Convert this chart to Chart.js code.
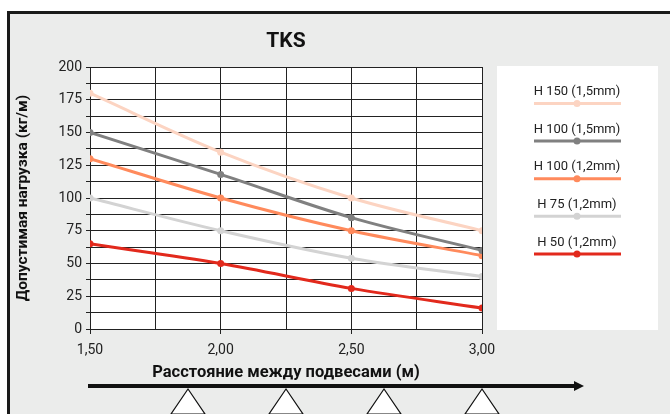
<!DOCTYPE html>
<html>
<head>
<meta charset="utf-8">
<script src="https://cdn.jsdelivr.net/npm/chart.js@4.4.1/dist/chart.umd.min.js"></script>
<style>
  html, body { margin: 0; padding: 0; background: #fff; }
  #wrap { position: relative; width: 670px; height: 414px; }
</style>
</head>
<body>
<div id="wrap"><canvas id="myChart" width="670" height="414"></canvas></div>
<script>
// distance between hangers (m)
var xValues = [1.5, 2.0, 2.5, 3.0];
var xTickLabels = ["1,50", "2,00", "2,50", "3,00"];
var yTickLabels = [0, 25, 50, 75, 100, 125, 150, 175, 200];

var seriesNames = ["H 150 (1,5mm)", "H 100 (1,5mm)", "H 100 (1,2mm)", "H 75 (1,2mm)", "H 50 (1,2mm)"];
var h150_15 = [180, 135, 100, 75];
var h100_15 = [150, 118, 85, 60];
var h100_12 = [130, 100, 75, 56];
var h75_12 = [100, 75, 54, 40];
var h50_12 = [65, 50, 31, 16];

// positions of the hangers under the arrow
var hangers = [1.875, 2.25, 2.625, 3.0];

var lineColors = ["#fcd4c2", "#808080", "#ff8a5c", "#d3d3d3", "#e2291c"];
var FONT = "Roboto";

function toPoints(vals) {
    return vals.map(function (v, i) { return { x: xValues[i], y: v }; });
}

var allSeries = [h150_15, h100_15, h100_12, h75_12, h50_12];
var datasets = allSeries.map(function (vals, i) {
    return {
        label: seriesNames[i],
        data: toPoints(vals),
        borderColor: lineColors[i],
        backgroundColor: lineColors[i],
        borderWidth: 3,
        pointRadius: 3.5,
        pointHoverRadius: 3.5,
        pointBorderWidth: 0,
        cubicInterpolationMode: 'monotone',
        fill: false
    };
});

var decor = {
    id: 'decor',
    beforeDraw: function (chart) {
        var ctx = chart.ctx;
        ctx.save();
        ctx.fillStyle = "#ffffff";
        ctx.fillRect(0, 0, chart.width, chart.height);
        // outer frame
        ctx.fillStyle = "#ebeceb";
        ctx.fillRect(8.5, 12.5, chart.width, chart.height);
        ctx.strokeStyle = "#1a1a1a";
        ctx.lineWidth = 3;
        ctx.strokeRect(8.5, 12.5, chart.width + 20, chart.height + 20);
        // plot background
        var a = chart.chartArea;
        ctx.fillStyle = "#ffffff";
        ctx.fillRect(a.left, a.top, a.right - a.left, a.bottom - a.top);
        // legend panel
        ctx.fillRect(497, 66, 161, 264);
        ctx.restore();
    },
    afterDraw: function (chart) {
        var ctx = chart.ctx;
        var a = chart.chartArea;
        var xs = chart.scales.x;
        ctx.save();
        // title
        ctx.fillStyle = "#111";
        ctx.font = "bold 21px " + FONT;
        ctx.textAlign = "center";
        ctx.textBaseline = "middle";
        ctx.fillText("TKS", (a.left + a.right) / 2, 42);

        // legend, text above line sample
        ctx.font = "13px " + FONT;
        chart.data.datasets.forEach(function (ds, i) {
            var ty = 92 + i * 37.6;
            var cx = 577;
            ctx.fillStyle = "#222";
            ctx.fillText(ds.label, cx, ty);
            ctx.strokeStyle = ds.borderColor;
            ctx.lineWidth = 3;
            ctx.beginPath();
            ctx.moveTo(534, ty + 11.5);
            ctx.lineTo(621, ty + 11.5);
            ctx.stroke();
            ctx.fillStyle = ds.borderColor;
            ctx.beginPath();
            ctx.arc(cx, ty + 11.5, 3.5, 0, Math.PI * 2);
            ctx.fill();
        });

        // arrow under the axis
        var ay = 386;
        ctx.strokeStyle = "#111";
        ctx.fillStyle = "#111";
        ctx.lineWidth = 4;
        ctx.beginPath();
        ctx.moveTo(a.left - 2, ay);
        ctx.lineTo(576, ay);
        ctx.stroke();
        ctx.beginPath();
        ctx.moveTo(584, ay);
        ctx.lineTo(574, ay - 5);
        ctx.lineTo(574, ay + 5);
        ctx.closePath();
        ctx.fill();

        // hanger triangles
        ctx.lineWidth = 1.2;
        hangers.forEach(function (h) {
            var px = xs.getPixelForValue(h);
            ctx.beginPath();
            ctx.moveTo(px, ay + 3);
            ctx.lineTo(px - 17, 414);
            ctx.lineTo(px + 17, 414);
            ctx.closePath();
            ctx.fillStyle = "#fff";
            ctx.fill();
            ctx.strokeStyle = "#111";
            ctx.stroke();
        });
        ctx.restore();
    }
};

new Chart("myChart", {
    type: "line",
    data: { datasets: datasets },
    plugins: [decor],
    options: {
        responsive: false,
        animation: false,
        events: [],
        layout: { padding: { left: 0, right: 188, top: 67, bottom: 0 } },
        plugins: {
            legend: { display: false },
            title: { display: false },
            tooltip: { enabled: false }
        },
        scales: {
            x: {
                type: 'linear',
                min: 1.5,
                max: 3.0,
                afterFit: function (scale) { scale.height = 85; },
                afterBuildTicks: function (scale) {
                    var t = [];
                    for (var v = 1.5; v <= 3.0001; v += 0.25) t.push({ value: Math.round(v * 100) / 100 });
                    scale.ticks = t;
                },
                border: { color: "#222", width: 1 },
                grid: {
                    color: "#222",
                    lineWidth: 1,
                    tickLength: 5,
                    tickColor: function (c) {
                        return xValues.indexOf(c.tick ? c.tick.value : -1) >= 0 ? "#222" : "rgba(0,0,0,0)";
                    }
                },
                ticks: {
                    padding: 8,
                    maxRotation: 0,
                    autoSkip: false,
                    color: "#222",
                    font: { family: FONT, size: 14 },
                    callback: function (value) {
                        var i = xValues.indexOf(Math.round(value * 100) / 100);
                        return i >= 0 ? xTickLabels[i] : "";
                    }
                },
                title: {
                    display: true,
                    text: "Расстояние между подвесами (м)",
                    color: "#111",
                    font: { family: FONT, size: 16.5, weight: "bold" },
                    padding: { top: 0, bottom: 31 }
                }
            },
            y: {
                min: 0,
                max: 200,
                afterFit: function (scale) { scale.width = 90; },
                afterBuildTicks: function (scale) {
                    var t = [];
                    for (var v = 0; v <= 200; v += 12.5) t.push({ value: v });
                    scale.ticks = t;
                },
                border: { color: "#222", width: 1 },
                grid: { color: "#222", lineWidth: 1, tickLength: 4, tickColor: "#222" },
                ticks: {
                    padding: 4,
                    autoSkip: false,
                    color: "#222",
                    font: { family: FONT, size: 14 },
                    callback: function (value) {
                        return yTickLabels.indexOf(value) >= 0 ? String(value) : "";
                    }
                },
                title: {
                    display: true,
                    text: "Допустимая нагрузка (кг/м)",
                    color: "#111",
                    font: { family: FONT, size: 15.5, weight: "bold" },
                    padding: { top: 14, bottom: 0 }
                }
            }
        }
    }
});
</script>
</body>
</html>
